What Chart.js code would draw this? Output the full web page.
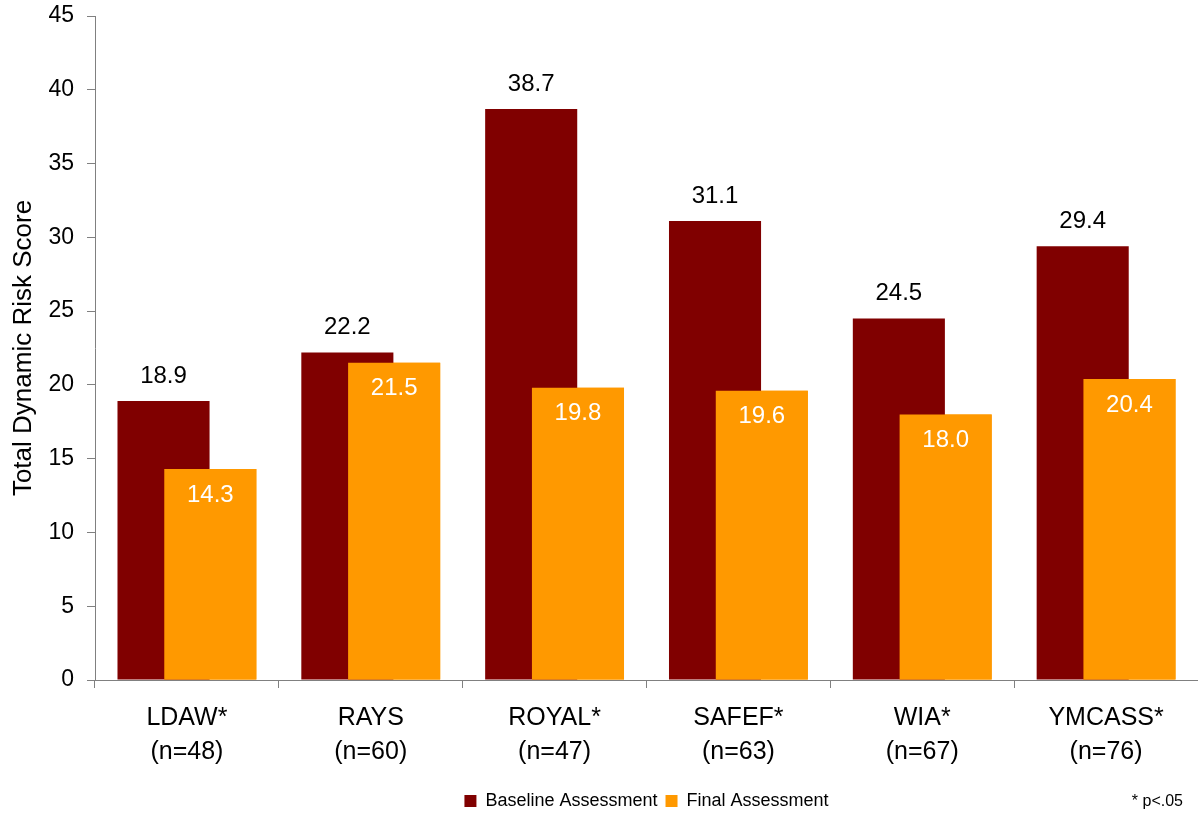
<!doctype html>
<html lang="en">
<head>
  <meta charset="utf-8">
  <title>Total Dynamic Risk Score</title>
  <script src="https://cdn.jsdelivr.net/npm/chart.js"></script>
  <style>
    html, body { margin: 0; padding: 0; background: #fff; }
    #wrap { width: 1198px; height: 817px; }
  </style>
</head>
<body>
  <div id="wrap"><canvas id="riskChart"></canvas></div>

  <script>
    const programs = ['LDAW*', 'RAYS', 'ROYAL*', 'SAFEF*', 'WIA*', 'YMCASS*'];
    const sampleSizes = [48, 60, 47, 63, 67, 76];
    const baseline = [18.9, 22.2, 38.7, 31.1, 24.5, 29.4];
    const finalScores = [14.3, 21.5, 19.8, 19.6, 18.0, 20.4];
    const yTicks = [0, 5, 10, 15, 20, 25, 30, 35, 40, 45];

    const FONT = "'Liberation Sans', Arial, sans-serif";
    const AXIS_GREY = '#808080';

    // final bars overlap the baseline bars, so paint them again on top,
    // then add the value labels and the significance note
    const valueLabels = {
      id: 'valueLabels',
      afterDatasetsDraw(chart) {
        const ctx = chart.ctx;
        chart.getDatasetMeta(1).data.forEach(bar => bar.draw(ctx));

        ctx.save();
        ctx.font = '24px ' + FONT;
        ctx.textAlign = 'center';
        ctx.textBaseline = 'middle';
        chart.data.datasets.forEach((ds, i) => {
          chart.getDatasetMeta(i).data.forEach((bar, j) => {
            const txt = ds.data[j].toFixed(1);
            if (i === 0) {
              ctx.fillStyle = '#000';
              ctx.fillText(txt, bar.x, bar.y - 25);
            } else {
              ctx.fillStyle = '#fff';
              ctx.fillText(txt, bar.x, bar.y + 26);
            }
          });
        });
        ctx.restore();
      },
      afterDraw(chart) {
        const ctx = chart.ctx;
        ctx.save();
        ctx.font = '16px ' + FONT;
        ctx.fillStyle = '#000';
        ctx.textAlign = 'right';
        ctx.textBaseline = 'middle';
        ctx.fillText('* p<.05', 1183, 802);
        ctx.restore();
      }
    };

    new Chart(document.getElementById('riskChart'), {
      type: 'bar',
      data: {
        labels: programs.map((p, i) => [p, '(n=' + sampleSizes[i] + ')']),
        datasets: [
          {
            label: 'Baseline Assessment',
            data: baseline,
            backgroundColor: '#800000',
            categoryPercentage: 0.509,
            barPercentage: 1.968
          },
          {
            label: 'Final Assessment',
            data: finalScores,
            backgroundColor: '#FF9900',
            categoryPercentage: 0.509,
            barPercentage: 1.968
          }
        ]
      },
      options: {
        responsive: true,
        maintainAspectRatio: false,
        animation: false,
        layout: { padding: { left: 0, right: -5, top: 16, bottom: -3 } },
        plugins: {
          legend: {
            position: 'bottom',
            fullSize: false,
            labels: {
              boxWidth: 12,
              boxHeight: 12,
              padding: 8,
              color: '#000',
              font: { family: FONT, size: 18 }
            }
          },
          tooltip: { enabled: false }
        },
        scales: {
          x: {
            border: { color: AXIS_GREY, width: 1 },
            grid: { offset: true, drawOnChartArea: false, tickLength: 8, color: AXIS_GREY },
            ticks: {
              color: '#000',
              padding: 13,
              font: { family: FONT, size: 25, lineHeight: 1.35 }
            },
            afterFit(scale) { scale.height = 104; }
          },
          y: {
            min: 0,
            max: 45,
            afterBuildTicks(scale) { scale.ticks = yTicks.map(v => ({ value: v })); },
            border: { color: AXIS_GREY, width: 1 },
            grid: { drawOnChartArea: false, tickLength: 8, color: AXIS_GREY },
            ticks: {
              color: '#000',
              padding: 13,
              font: { family: FONT, size: 23 }
            },
            title: {
              display: true,
              text: 'Total Dynamic Risk Score',
              color: '#000',
              padding: { top: 8, bottom: 0 },
              font: { family: FONT, size: 26 }
            },
            afterFit(scale) {
              scale.width = 95;
              scale.paddingTop = 0;
            }
          }
        }
      },
      plugins: [valueLabels]
    });
  </script>
</body>
</html>
